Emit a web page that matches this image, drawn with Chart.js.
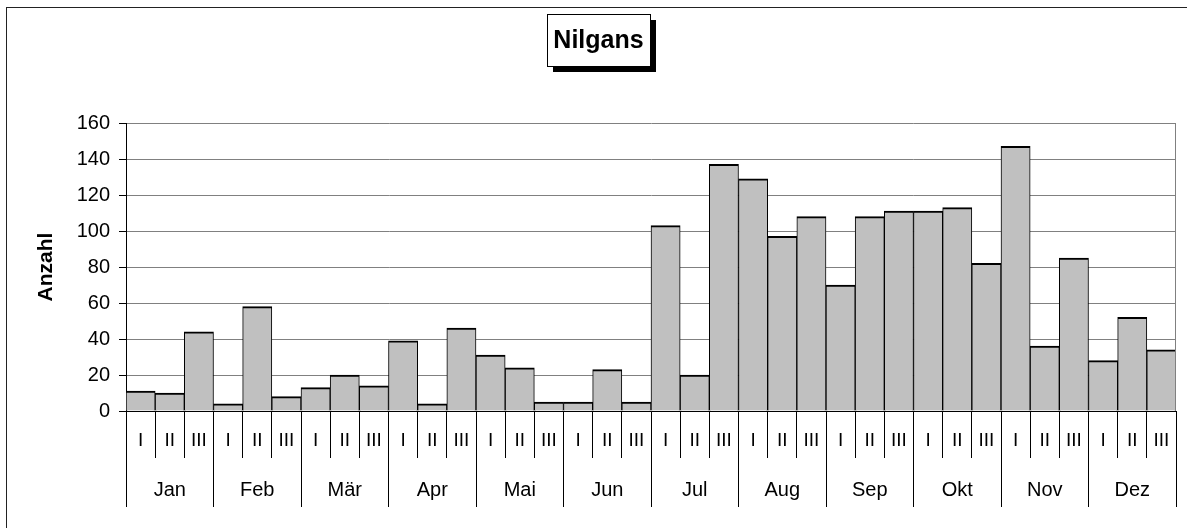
<!DOCTYPE html>
<html>
<head>
<meta charset="utf-8">
<script src="https://cdn.jsdelivr.net/npm/chart.js@4/dist/chart.umd.min.js"></script>
<style>
  html, body { margin: 0; padding: 0; background: #fff; }
  canvas { display: block; }
</style>
</head>
<body>
<canvas id="c" width="1187" height="528"></canvas>
<script>
const chartTitle = 'Nilgans';
const yAxisTitle = 'Anzahl';
const months = ['Jan', 'Feb', 'Mär', 'Apr', 'Mai', 'Jun', 'Jul', 'Aug', 'Sep', 'Okt', 'Nov', 'Dez'];
const decades = ['I', 'II', 'III'];
const categories = months.flatMap(() => decades);
const counts = [
  11, 10, 44,
  4, 58, 8,
  13, 20, 14,
  39, 4, 46,
  31, 24, 5,
  5, 23, 5,
  103, 20, 137,
  129, 97, 108,
  70, 108, 111,
  111, 113, 82,
  147, 36, 85,
  28, 52, 34
];
const yTicks = [0, 20, 40, 60, 80, 100, 120, 140, 160];

const FONT = 'Liberation Sans, Arial, sans-serif';

const decor = {
  id: 'decor',
  beforeDraw(chart) {
    const ctx = chart.ctx;
    ctx.save();
    ctx.fillStyle = '#fff';
    ctx.fillRect(0, 0, chart.width, chart.height);
    ctx.restore();
  },
  afterDraw(chart) {
    const ctx = chart.ctx;
    const a = chart.chartArea;
    ctx.save();
    // plot area right border
    ctx.strokeStyle = '#808080';
    ctx.lineWidth = 1;
    ctx.beginPath();
    ctx.moveTo(Math.round(a.right) - 0.5, a.top);
    ctx.lineTo(Math.round(a.right) - 0.5, a.bottom);
    ctx.stroke();
    // outer frame
    ctx.strokeStyle = '#222';
    ctx.strokeRect(6.5, 7.5, chart.width + 20, chart.height + 20);
    // title box with shadow
    ctx.font = 'bold 25px ' + FONT;
    const tw = ctx.measureText(chartTitle).width;
    const bw = Math.round(tw + 13), bh = 52;
    const cx = 598.5;
    const bx = Math.round(cx - bw / 2) + 0.5, by = 14.5;
    ctx.fillStyle = '#000';
    ctx.fillRect(bx + 5.5, by + 5.5, bw, bh);
    ctx.fillStyle = '#fff';
    ctx.fillRect(bx, by, bw, bh);
    ctx.strokeStyle = '#000';
    ctx.strokeRect(bx, by, bw, bh);
    ctx.fillStyle = '#000';
    ctx.textAlign = 'center';
    ctx.textBaseline = 'alphabetic';
    ctx.fillText(chartTitle, cx, 48);
    ctx.restore();
  }
};

new Chart(document.getElementById('c'), {
  type: 'bar',
  data: {
    labels: categories,
    datasets: [{
      data: counts,
      backgroundColor: '#C0C0C0',
      borderColor: '#000',
      borderWidth: { top: 2, left: 1, right: 1, bottom: 0 },
      borderSkipped: 'bottom',
      categoryPercentage: 1.0,
      barPercentage: 1.0,
      xAxisID: 'x',
      yAxisID: 'y'
    }]
  },
  options: {
    responsive: false,
    animation: false,
    devicePixelRatio: 1,
    layout: { padding: { left: 20, right: 11, top: 123, bottom: 20 } },
    plugins: {
      legend: { display: false },
      title: { display: false },
      tooltip: { enabled: false }
    },
    scales: {
      x: {
        type: 'category',
        position: 'bottom',
        offset: true,
        grid: {
          display: true,
          offset: true,
          drawOnChartArea: false,
          drawTicks: true,
          tickLength: 47,
          color: '#000',
          tickColor: '#000',
          lineWidth: 1
        },
        border: { display: true, color: '#000', width: 1 },
        ticks: {
          autoSkip: false,
          maxRotation: 0,
          minRotation: 0,
          padding: -29,
          color: '#000',
          font: { family: FONT, size: 19 }
        },
        afterFit(s) { s.height = 47; }
      },
      y: {
        type: 'linear',
        position: 'left',
        min: 0,
        max: 160,
        afterBuildTicks(s) { s.ticks = yTicks.map(v => ({ value: v })); },
        grid: {
          color: (c) => (c.tick && c.tick.value === 0) ? '#000' : '#808080',
          tickColor: '#000',
          tickLength: 7,
          lineWidth: 1
        },
        border: { display: true, color: '#000', width: 1 },
        ticks: {
          padding: 9,
          color: '#000',
          font: { family: FONT, size: 20 }
        },
        title: {
          display: true,
          text: yAxisTitle,
          color: '#000',
          padding: { top: 14, bottom: 0 },
          font: { family: FONT, size: 21, weight: 'bold' }
        },
        afterFit(s) { s.width = 106; }
      },
      x2: {
        type: 'category',
        position: 'bottom',
        labels: months,
        offset: true,
        grid: {
          display: true,
          offset: true,
          drawOnChartArea: false,
          drawTicks: true,
          tickLength: 49,
          color: '#000',
          tickColor: '#000',
          lineWidth: 1
        },
        border: { display: false },
        ticks: {
          autoSkip: false,
          maxRotation: 0,
          minRotation: 0,
          padding: -29,
          color: '#000',
          font: { family: FONT, size: 20 }
        },
        afterFit(s) { s.height = 50; }
      }
    }
  },
  plugins: [decor]
});
</script>
</body>
</html>
